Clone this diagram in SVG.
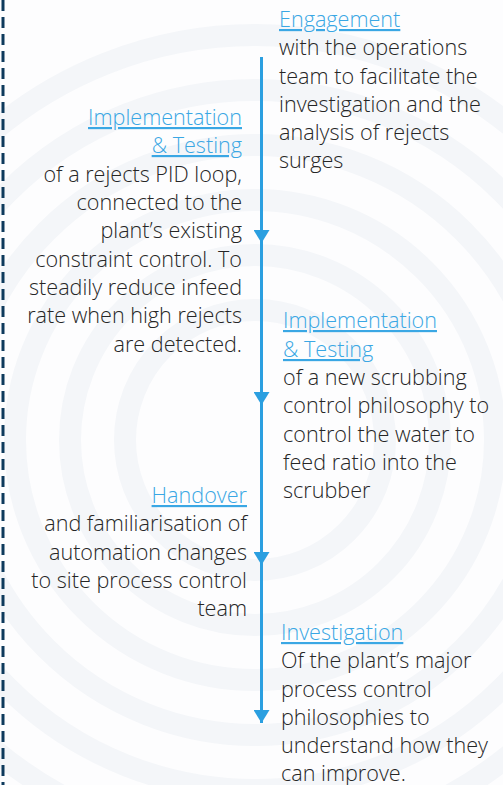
<svg xmlns="http://www.w3.org/2000/svg" width="503" height="785" viewBox="0 0 503 785">
<defs>
<style>
.t{font-family:"Open Sans",Lato,"Liberation Sans",sans-serif;font-size:21.6px;fill:#262626;font-weight:300}
.h{fill:#3aa7e4;text-decoration:underline}
.r{text-anchor:end}
.swirl{fill:none;stroke:#f4f6f9;stroke-width:22}
</style>
<marker id="arr" viewBox="0 0 13 16" refX="13" refY="8" markerWidth="13" markerHeight="16" markerUnits="userSpaceOnUse" orient="auto">
<path d="M0 0 L13 8 L0 16 Z" fill="#2b9fe0"/>
</marker>
</defs>
<rect width="503" height="785" fill="#fdfdfe"/>
<g id="background">
<circle class="swirl" cx="255" cy="440" r="130"/>
<circle class="swirl" cx="255" cy="440" r="185"/>
<circle class="swirl" cx="255" cy="440" r="240"/>
<circle class="swirl" cx="255" cy="440" r="295"/>
<circle class="swirl" cx="255" cy="440" r="350"/>
<circle class="swirl" cx="255" cy="440" r="405"/>
</g>
<line x1="3" y1="0" x2="3" y2="785" stroke="#0e3a5c" stroke-width="3" stroke-dasharray="11 6"/>
<g id="connectors" stroke="#2b9fe0" stroke-width="3" fill="none">
<line x1="261.5" y1="57" x2="261.5" y2="243" marker-end="url(#arr)"/>
<line x1="261.5" y1="243" x2="261.5" y2="405" marker-end="url(#arr)"/>
<line x1="261.5" y1="405" x2="261.5" y2="565" marker-end="url(#arr)"/>
<line x1="261.5" y1="565" x2="261.5" y2="723" marker-end="url(#arr)"/>
</g>
<g id="engagement">
<text class="t h" x="279" y="27">Engagement</text>
<text class="t" x="279" y="55">with the operations</text>
<text class="t" x="279" y="83.5">team to facilitate the</text>
<text class="t" x="279" y="112">investigation and the</text>
<text class="t" x="279" y="140">analysis of rejects</text>
<text class="t" x="279" y="168">surges</text>
</g>
<g id="implementation1">
<text class="t h r" x="242" y="125">Implementation</text>
<text class="t h r" x="242" y="153">&amp; Testing</text>
<text class="t r" x="242" y="182">of a rejects PID loop,</text>
<text class="t r" x="242" y="210">connected to the</text>
<text class="t r" x="242" y="238">plant’s existing</text>
<text class="t r" x="242" y="267">constraint control. To</text>
<text class="t r" x="242" y="295">steadily reduce infeed</text>
<text class="t r" x="242" y="323">rate when high rejects</text>
<text class="t r" x="242" y="352">are detected.</text>
</g>
<g id="implementation2">
<text class="t h" x="283" y="328">Implementation</text>
<text class="t h" x="283" y="357">&amp; Testing</text>
<text class="t" x="283" y="385">of a new scrubbing</text>
<text class="t" x="283" y="413">control philosophy to</text>
<text class="t" x="283" y="442">control the water to</text>
<text class="t" x="283" y="470">feed ratio into the</text>
<text class="t" x="283" y="498">scrubber</text>
</g>
<g id="handover">
<text class="t h r" x="247" y="503">Handover</text>
<text class="t r" x="247" y="531">and familiarisation of</text>
<text class="t r" x="247" y="560">automation changes</text>
<text class="t r" x="247" y="588">to site process control</text>
<text class="t r" x="247" y="616">team</text>
</g>
<g id="investigation">
<text class="t h" x="281" y="640">Investigation</text>
<text class="t" x="281" y="668">Of the plant’s major</text>
<text class="t" x="281" y="697">process control</text>
<text class="t" x="281" y="725">philosophies to</text>
<text class="t" x="281" y="753">understand how they</text>
<text class="t" x="281" y="781">can improve.</text>
</g>
</svg>
